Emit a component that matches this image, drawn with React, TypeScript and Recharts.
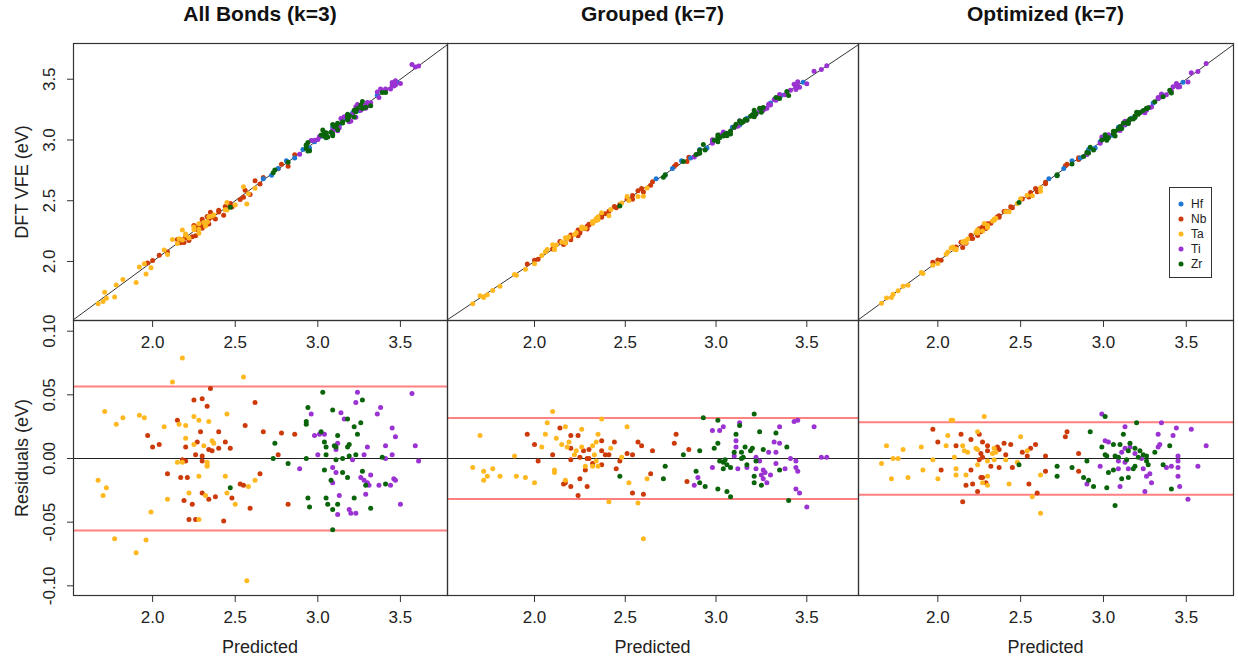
import React from "react";
import { ReferenceLine, Scatter, ScatterChart, XAxis, YAxis } from "recharts";

// each point is [predicted, residual]; DFT VFE = predicted + residual
type Pt = [number, number];

const FONT = "'Liberation Sans', Arial, Helvetica, sans-serif";

const titles = ["All Bonds (k=3)", "Grouped (k=7)", "Optimized (k=7)"];
const elements = ["Hf", "Nb", "Ta", "Ti", "Zr"];
const drawOrder = ["Nb", "Ta", "Hf", "Ti", "Zr"];
const colors: Record<string, string> = {
  Hf: "#1E78D2",
  Nb: "#CD3A0A",
  Ta: "#FFB820",
  Ti: "#9B32D2",
  Zr: "#0A640A"
};
const xTicks = [2.0, 2.5, 3.0, 3.5];
const vfeTicks = [2.0, 2.5, 3.0, 3.5];
const residTicks = [-0.1, -0.05, 0, 0.05, 0.1];
const residSd = [0.0566, 0.0318, 0.0284];

// Hf only shows up in the parity plots
const hfPoints: Pt[] = [
  [2.67, 0.01], [2.72, -0.01], [2.76, 0.005], [2.81, 0.02], [2.86, -0.008], [2.91, 0.012],
  [2.95, -0.015], [2.98, 0.006], [3.02, 0.01], [3.05, -0.012], [3.09, 0.015], [3.13, -0.006],
  [3.17, 0.008], [3.21, 0.012], [3.25, -0.01], [3.3, 0.004], [3.36, 0.009], [3.48, -0.005]
];

// All Bonds (k=3)
const k3Nb: Pt[] = [
  [2.35, 0.055], [2.25, 0.046], [2.3, 0.047], [2.33, 0.041], [2.62, 0.044], [2.15, 0.03], [2.56, 0.026],
  [2.29, 0.021], [2.4, 0.021], [2.67, 0.021], [1.97, 0.018], [2.0, 0.009], [2.04, 0.011], [2.2, 0.009],
  [2.27, 0.013], [2.34, 0.007], [2.36, 0.006], [2.4, 0.008], [2.44, 0.013], [2.47, 0.008], [2.26, 0.003],
  [2.3, 0.002], [2.18, -0.001], [2.2, -0.002], [2.3, -0.002], [2.09, -0.012], [2.17, -0.015], [2.21, -0.015],
  [2.65, -0.012], [2.53, -0.02], [2.55, -0.021], [2.3, -0.027], [2.34, -0.032], [2.38, -0.03], [2.48, -0.031],
  [2.19, -0.033], [2.24, -0.036], [2.59, -0.039], [2.22, -0.048], [2.26, -0.048], [2.43, -0.049],
  [2.78, 0.02], [2.86, 0.019], [2.76, 0.003], [2.82, -0.036]
];
const k3Ta: Pt[] = [
  [2.18, 0.079], [2.55, 0.064], [2.12, 0.06], [1.71, 0.037], [1.82, 0.032], [1.78, 0.027], [1.92, 0.034],
  [1.95, 0.032], [2.07, 0.025], [2.16, 0.027], [2.2, 0.026], [2.25, 0.033], [2.28, 0.03], [2.34, 0.029],
  [2.45, 0.035], [2.2, 0.016], [2.25, 0.011], [2.31, 0.01], [2.36, 0.014], [2.37, 0.012], [2.15, -0.003],
  [2.18, -0.003], [2.33, -0.003], [2.33, -0.005], [2.33, -0.006], [2.28, -0.014], [2.44, -0.014],
  [1.67, -0.017], [1.72, -0.023], [1.7, -0.029], [2.58, -0.022], [2.62, -0.017], [2.22, -0.027],
  [2.32, -0.029], [2.45, -0.027], [2.09, -0.032], [2.5, -0.036], [1.99, -0.042], [2.28, -0.048],
  [1.77, -0.063], [1.96, -0.064], [1.9, -0.074], [2.57, -0.096]
];
const k3Ti: Pt[] = [
  [3.24, 0.052], [3.57, 0.051], [3.23, 0.044], [3.14, 0.036], [3.38, 0.04], [3.36, 0.035], [2.96, 0.035],
  [3.16, 0.031], [3.45, 0.024], [2.98, 0.018], [3.01, 0.019], [3.04, 0.019], [3.47, 0.017], [3.12, 0.012],
  [3.11, 0.007], [3.3, 0.009], [3.41, 0.01], [3.59, 0.01], [3.0, 0.003], [3.21, -0.001], [3.28, 0.003],
  [3.41, 0.0], [3.45, 0.003], [3.61, -0.002], [2.89, -0.008], [3.09, -0.007], [3.11, -0.011], [3.26, -0.015],
  [3.32, -0.013], [3.28, -0.017], [3.3, -0.019], [3.31, -0.021], [3.37, -0.021], [3.44, -0.021],
  [3.46, -0.016], [3.47, -0.017], [3.09, -0.019], [3.13, -0.029], [3.29, -0.028], [3.5, -0.036],
  [3.19, -0.04], [3.2, -0.043], [3.23, -0.043], [3.12, -0.044]
];
const k3Zr: Pt[] = [
  [2.47, -0.023], [3.03, 0.052], [3.27, 0.046], [2.94, 0.04], [3.09, 0.038], [2.93, 0.029], [2.93, 0.027],
  [3.18, 0.031], [3.26, 0.028], [3.22, 0.025], [3.02, 0.021], [3.12, 0.018], [3.24, 0.019], [2.74, 0.012],
  [3.04, 0.013], [3.05, 0.009], [3.1, 0.01], [3.11, 0.009], [3.18, 0.009], [3.19, 0.011], [2.73, 0.0],
  [2.93, 0.0], [3.05, 0.003], [3.11, -0.001], [3.15, 0.0], [3.19, 0.002], [3.23, 0.003], [3.39, 0.001],
  [2.82, -0.004], [3.04, -0.009], [3.15, -0.011], [3.18, -0.015], [3.27, -0.01], [3.29, -0.021],
  [3.41, -0.02], [3.08, -0.017], [2.94, -0.031], [3.05, -0.031], [3.22, -0.031], [2.95, -0.038],
  [3.06, -0.036], [3.12, -0.036], [3.09, -0.04], [3.32, -0.039], [3.09, -0.056]
];

// Grouped (k=7)
const grNb: Pt[] = [
  [2.14, 0.024], [1.96, 0.019], [2.2, 0.018], [2.24, 0.018], [2.0, 0.011], [2.2, 0.008], [2.37, 0.014],
  [2.44, 0.013], [2.57, 0.013], [2.59, 0.01], [2.3, 0.007], [2.27, 0.006], [2.37, 0.006], [2.39, 0.003],
  [2.41, 0.003], [2.51, 0.004], [2.54, 0.003], [2.65, 0.006], [2.1, 0.003], [2.02, -0.002], [2.2, -0.001],
  [2.25, 0.001], [2.29, 0.0], [2.3, 0.0], [2.37, -0.005], [2.47, -0.002], [2.32, -0.004], [2.28, -0.009],
  [2.45, -0.008], [2.64, -0.012], [2.16, -0.02], [2.17, -0.019], [2.2, -0.022], [2.25, -0.016],
  [2.29, -0.022], [2.24, -0.029], [2.54, -0.027], [2.6, -0.028], [2.78, 0.019], [2.77, 0.012],
  [2.85, 0.007], [2.84, -0.018]
];
const grTa: Pt[] = [
  [2.1, 0.037], [2.37, 0.031], [1.7, 0.018], [2.07, 0.028], [2.17, 0.025], [2.26, 0.023], [2.06, 0.019],
  [2.35, 0.019], [2.51, 0.025], [2.04, 0.009], [2.12, 0.016], [2.15, 0.011], [2.19, 0.013], [2.18, 0.009],
  [2.26, 0.009], [2.32, 0.01], [2.34, 0.013], [2.23, 0.006], [2.22, 0.003], [2.33, 0.003], [2.42, 0.008],
  [1.89, 0.002], [2.34, -0.002], [2.48, 0.001], [2.28, -0.006], [2.32, -0.006], [2.35, -0.006],
  [1.66, -0.007], [1.72, -0.01], [1.77, -0.008], [1.74, -0.014], [1.72, -0.017], [1.81, -0.014],
  [1.9, -0.014], [1.95, -0.015], [2.0, -0.019], [2.11, -0.009], [2.11, -0.011], [2.52, -0.019],
  [2.62, -0.016], [2.17, -0.017], [2.41, -0.034], [2.57, -0.035], [2.6, -0.063]
];
const grTi: Pt[] = [
  [3.13, 0.028], [3.43, 0.029], [3.45, 0.03], [3.54, 0.025], [3.35, 0.025], [2.98, 0.022], [3.02, 0.022],
  [3.04, 0.025], [3.11, 0.014], [3.11, 0.009], [3.1, 0.002], [3.22, 0.001], [3.29, 0.005], [3.33, 0.005],
  [3.32, 0.013], [3.35, 0.012], [3.41, 0.0], [3.44, -0.002], [3.58, 0.001], [3.61, 0.001], [3.24, -0.002],
  [2.98, -0.007], [3.12, -0.008], [3.17, -0.007], [3.22, -0.008], [3.33, -0.004], [3.38, -0.008],
  [3.44, -0.007], [3.45, -0.01], [3.26, -0.009], [3.27, -0.011], [3.3, -0.013], [3.25, -0.013],
  [3.26, -0.016], [3.28, -0.019], [2.9, -0.015], [2.88, -0.021], [3.44, -0.024], [3.46, -0.027],
  [3.5, -0.038]
];
const grZr: Pt[] = [
  [2.47, -0.014], [2.93, 0.032], [3.21, 0.035], [3.01, 0.03], [3.13, 0.026], [3.24, 0.021], [3.33, 0.02],
  [3.11, 0.019], [3.01, 0.012], [2.99, 0.008], [2.91, 0.006], [2.82, 0.003], [3.1, 0.005], [3.16, 0.009],
  [3.14, 0.005], [3.19, 0.006], [3.2, 0.008], [3.15, 0.001], [3.14, 0.0], [3.26, 0.007], [3.39, 0.009],
  [3.02, -0.002], [3.04, -0.003], [3.05, -0.001], [3.22, -0.002], [3.06, -0.005], [3.08, -0.007],
  [3.04, -0.008], [3.17, -0.005], [2.72, -0.006], [2.89, -0.01], [3.35, -0.009], [3.21, -0.014],
  [2.71, -0.016], [2.91, -0.019], [2.94, -0.022], [3.21, -0.019], [3.25, -0.021], [3.01, -0.024],
  [3.06, -0.026], [3.08, -0.03], [3.4, -0.033]
];

// Optimized (k=7)
const opNb: Pt[] = [
  [1.97, 0.023], [2.14, 0.019], [2.25, 0.019], [2.0, 0.013], [2.11, 0.01], [2.2, 0.015], [2.27, 0.013],
  [2.3, 0.01], [2.3, 0.006], [2.36, 0.009], [2.37, 0.007], [2.4, 0.012], [2.44, 0.011], [2.51, 0.005],
  [2.56, 0.008], [2.59, 0.011], [2.26, 0.004], [2.27, 0.001], [2.41, 0.003], [2.54, 0.002], [2.65, 0.002],
  [2.25, -0.001], [2.32, -0.006], [2.37, -0.007], [2.45, -0.007], [2.02, -0.009], [2.2, -0.009],
  [2.26, -0.015], [2.27, -0.015], [2.29, -0.019], [2.17, -0.021], [2.21, -0.02], [2.55, -0.02],
  [2.65, -0.01], [2.24, -0.026], [2.6, -0.027], [2.15, -0.034], [2.78, 0.021], [2.77, 0.017],
  [2.85, 0.004], [2.85, -0.01]
];
const opTa: Pt[] = [
  [2.08, 0.03], [2.09, 0.03], [2.28, 0.033], [2.06, 0.018], [2.24, 0.021], [2.05, 0.01], [1.69, 0.01],
  [1.79, 0.007], [1.9, 0.009], [2.15, 0.01], [2.16, 0.006], [2.18, 0.005], [2.23, 0.008], [2.24, 0.007],
  [2.34, 0.008], [2.35, 0.005], [2.33, 0.004], [2.5, 0.017], [2.54, 0.006], [1.66, -0.004], [1.73, 0.0],
  [1.76, 0.0], [1.97, -0.001], [2.1, 0.001], [2.3, -0.002], [2.34, -0.001], [2.41, -0.001], [2.24, -0.005],
  [2.48, -0.003], [1.91, -0.009], [2.11, -0.008], [2.11, -0.013], [2.17, -0.013], [1.72, -0.016],
  [1.82, -0.015], [2.0, -0.016], [2.3, -0.014], [2.3, -0.021], [2.27, -0.019], [2.43, -0.02],
  [2.62, -0.013], [2.57, -0.03], [2.62, -0.043]
];
const opTi: Pt[] = [
  [2.99, 0.035], [3.35, 0.028], [3.13, 0.025], [3.44, 0.024], [3.53, 0.023], [3.33, 0.019], [3.42, 0.018],
  [3.01, 0.014], [3.03, 0.013], [3.16, 0.009], [3.34, 0.011], [3.33, 0.009], [3.62, 0.01], [3.13, 0.008],
  [3.11, 0.005], [3.19, 0.004], [3.45, 0.002], [3.45, -0.002], [3.23, 0.0], [3.09, -0.002], [3.13, -0.003],
  [3.15, -0.008], [3.24, -0.008], [3.09, -0.008], [3.38, -0.007], [3.41, -0.006], [3.45, -0.007],
  [3.57, -0.006], [2.98, -0.006], [3.28, -0.012], [3.26, -0.014], [3.45, -0.014], [2.9, -0.02],
  [3.1, -0.022], [3.29, -0.019], [3.46, -0.022], [3.25, -0.026], [3.51, -0.032]
];
const opZr: Pt[] = [
  [2.49, -0.005], [3.01, 0.033], [3.2, 0.028], [2.92, 0.021], [3.12, 0.019], [3.06, 0.011], [2.99, 0.009],
  [3.1, 0.011], [3.16, 0.012], [3.4, 0.01], [3.19, 0.008], [3.22, 0.006], [3.07, 0.002], [3.01, 0.003],
  [3.02, 0.002], [3.09, 0.001], [3.15, 0.006], [3.24, 0.003], [3.26, 0.002], [3.31, 0.005], [2.9, -0.002],
  [3.14, -0.001], [3.21, 0.001], [3.26, -0.002], [3.27, -0.005], [3.19, -0.006], [3.18, -0.008],
  [3.36, -0.005], [2.72, -0.006], [2.81, -0.007], [3.03, -0.011], [3.06, -0.009], [2.72, -0.014],
  [2.88, -0.015], [2.91, -0.017], [2.94, -0.022], [3.02, -0.023], [3.11, -0.016], [3.15, -0.015],
  [3.41, -0.024], [3.07, -0.037]
];

const models: Record<string, Pt[]>[] = [
  { Hf: hfPoints, Nb: k3Nb, Ta: k3Ta, Ti: k3Ti, Zr: k3Zr },
  { Hf: hfPoints, Nb: grNb, Ta: grTa, Ti: grTi, Zr: grZr },
  { Hf: hfPoints, Nb: opNb, Ta: opTa, Ti: opTi, Zr: opZr }
];

const xDomain: [number, number] = [1.518, 3.782];
const vfeDomain: [number, number] = [1.51, 3.79];
const residDomain: [number, number] = [-0.108, 0.108];

// plot-area boxes, in page pixels
const cols = [
  { left: 73, width: 374 },
  { left: 447, width: 411 },
  { left: 858, width: 375 }
];
const rows = [
  { top: 44, height: 277 },
  { top: 321, height: 275 }
];

function RotTick(props: any) {
  const { x, y, payload, digits } = props;
  return (
    <text x={x} y={y} transform={`rotate(-90 ${x} ${y})`} textAnchor="middle" fontSize={17} fill="#222">
      {Number(payload.value).toFixed(digits)}
    </text>
  );
}

function Panel({ col, row }: { col: number; row: number }) {
  const { left, width } = cols[col];
  const { top, height } = rows[row];
  const parity = row === 0;
  const yw = col === 0 ? left : 10;
  const mt = parity ? 2 : 24; // room for the 0.10 label above the residual box
  const mr = 2;
  const xh = 40;
  const sets = models[col];
  const shown = parity ? drawOrder : drawOrder.filter((e) => e !== "Hf");

  return (
    <div style={{ position: "absolute", left: left - yw, top: top - mt }}>
      <ScatterChart
        width={yw + width + mr}
        height={mt + height + xh}
        margin={{ top: mt, right: mr, bottom: 0, left: 0 }}
      >
        <XAxis
          type="number"
          dataKey="x"
          domain={xDomain}
          ticks={xTicks}
          interval={0}
          allowDataOverflow
          axisLine={false}
          height={xh}
          tickSize={6}
          tickMargin={9}
          tickLine={{ stroke: "#333" }}
          tick={{ fontSize: 17, fill: "#222" }}
          tickFormatter={(v: number) => v.toFixed(1)}
        />
        <YAxis
          type="number"
          dataKey="y"
          domain={parity ? vfeDomain : residDomain}
          ticks={parity ? vfeTicks : residTicks}
          interval={0}
          allowDataOverflow
          axisLine={false}
          width={yw}
          tickSize={6}
          tickMargin={12}
          tickLine={{ stroke: "#333" }}
          tick={col === 0 ? <RotTick digits={parity ? 1 : 2} /> : false}
        />
        {parity
          ? [
              <ReferenceLine
                key="diag"
                segment={[
                  { x: 1.4, y: 1.4 },
                  { x: 3.9, y: 3.9 }
                ]}
                ifOverflow="hidden"
                stroke="#333"
                strokeWidth={1}
              />
            ]
          : [
              <ReferenceLine key="zero" y={0} stroke="#222" strokeWidth={1.2} />,
              <ReferenceLine key="hi" y={residSd[col]} stroke="#FF8080" strokeWidth={2} />,
              <ReferenceLine key="lo" y={-residSd[col]} stroke="#FF8080" strokeWidth={2} />
            ]}
        {shown.map((el) => (
          <Scatter
            key={el}
            name={el}
            data={sets[el].map(([p, r]) => ({ x: p, y: parity ? p + r : r }))}
            fill={colors[el]}
            shape={(s: any) => <circle cx={s.cx} cy={s.cy} r={2.5} fill={colors[el]} />}
            isAnimationActive={false}
          />
        ))}
      </ScatterChart>
    </div>
  );
}

export default function App() {
  return (
    <div
      style={{
        position: "absolute",
        left: 0,
        top: 0,
        width: 1238,
        height: 669,
        background: "#fff",
        overflow: "hidden",
        fontFamily: FONT
      }}
    >
      {cols.map((_, c) => rows.map((__, r) => <Panel key={`${c}-${r}`} col={c} row={r} />))}

      <svg width={1238} height={669} style={{ position: "absolute", left: 0, top: 0, pointerEvents: "none" }}>
        {cols.map((c, i) => (
          <text key={`t${i}`} x={c.left + c.width / 2} y={21} textAnchor="middle" fontSize={21} fontWeight="bold" fill="#111">
            {titles[i]}
          </text>
        ))}
        {cols.map((c, i) => (
          <text key={`p${i}`} x={c.left + c.width / 2} y={653} textAnchor="middle" fontSize={18} fill="#222">
            Predicted
          </text>
        ))}
        <text x={28} y={182} transform="rotate(-90 28 182)" textAnchor="middle" fontSize={18} fill="#222">
          DFT VFE (eV)
        </text>
        <text x={28} y={458} transform="rotate(-90 28 458)" textAnchor="middle" fontSize={18} fill="#222">
          Residuals (eV)
        </text>

        {cols.map((c, i) =>
          rows.map((r, j) => (
            <rect
              key={`f${i}${j}`}
              x={c.left + 0.5}
              y={r.top - 0.5}
              width={c.width}
              height={r.height}
              fill="none"
              stroke="#333"
              strokeWidth={1.2}
            />
          ))
        )}

        <rect x={1169.5} y={187.5} width={42} height={90} fill="#fff" stroke="#333" />
        {elements.map((el, i) => (
          <g key={el}>
            <circle cx={1181} cy={204 + 15 * i} r={2.5} fill={colors[el]} />
            <text x={1191} y={208 + 15 * i} fontSize={12} fill="#222">
              {el}
            </text>
          </g>
        ))}
      </svg>
    </div>
  );
}
